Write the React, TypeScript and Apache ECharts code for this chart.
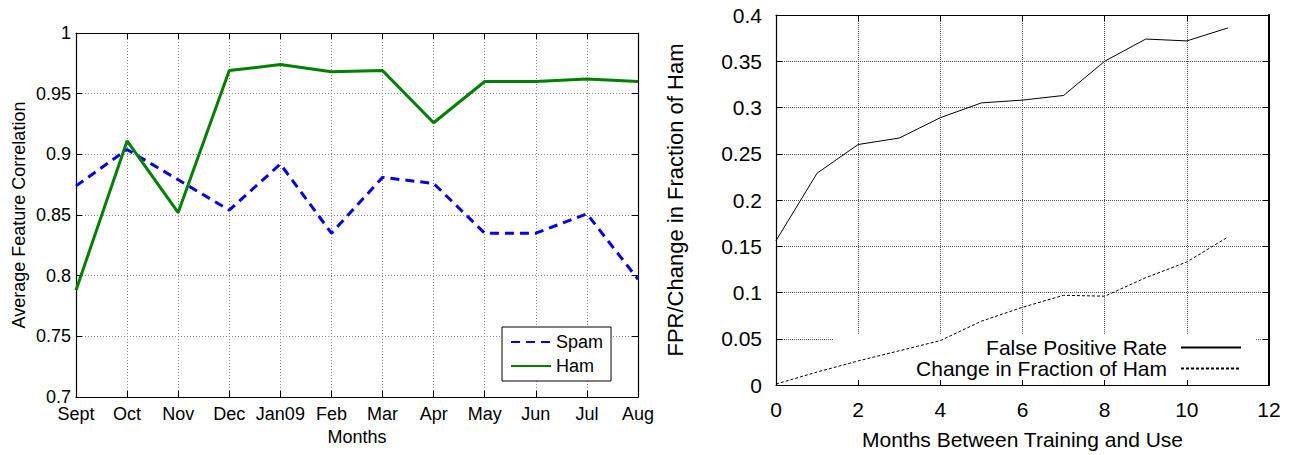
import React, { useEffect, useRef } from "react";
import * as echarts from "echarts";

const FONT = "'Liberation Sans', Arial, Helvetica, sans-serif";

// Left chart data
const months = ["Sept", "Oct", "Nov", "Dec", "Jan09", "Feb", "Mar", "Apr", "May", "Jun", "Jul", "Aug"];
const spamCorr = [0.874, 0.904, 0.879, 0.854, 0.892, 0.835, 0.881, 0.876, 0.835, 0.835, 0.851, 0.797];
const hamCorr = [0.788, 0.911, 0.852, 0.969, 0.974, 0.968, 0.969, 0.926, 0.960, 0.960, 0.962, 0.960];

// Right chart data
const monthsBetween = [0, 1, 2, 3, 4, 5, 6, 7, 8, 9, 10, 11];
const falsePositiveRate = [0.156, 0.229, 0.260, 0.267, 0.289, 0.305, 0.308, 0.313, 0.350, 0.374, 0.372, 0.386];
const hamFractionChange = [0.001, 0.014, 0.026, 0.037, 0.048, 0.069, 0.084, 0.097, 0.096, 0.116, 0.133, 0.160];

export default function App() {
  const ref = useRef<HTMLDivElement>(null);
  useEffect(() => {
    document.body.style.margin = "0";
    const chart = echarts.init(ref.current!, null, { renderer: "svg" });
    const leftGrid = { left: 76, top: 33, width: 562, height: 364 };
    const rightGrid = { left: 776, top: 15, width: 493, height: 371 };
    const lSplit = { show: true, lineStyle: { color: "#8a8a8a", type: [1, 2], width: 1 } };
    const rSplit = { show: true, lineStyle: { color: "#555", type: [1, 1], width: 1 } };
    const axisLine = { show: true, onZero: false, lineStyle: { color: "#000", width: 1.2 } };
    const tickIn = { show: true, inside: true, length: 6, lineStyle: { color: "#000", width: 1 } };
    const textL = { color: "#000", fontFamily: FONT, fontSize: 18 };
    const textR = { color: "#000", fontFamily: FONT, fontSize: 21 };
    const noSymbol = { opacity: 0, borderWidth: 0 };

    chart.setOption({
      animation: false,
      backgroundColor: "#fff",
      textStyle: { fontFamily: FONT },
      grid: [
        { ...leftGrid, containLabel: false },
        { ...rightGrid, containLabel: false },
      ],
      graphic: [
        {
          type: "rect",
          z: 1,
          shape: { x: 833, y: 335, width: 422, height: 45 },
          style: { fill: "#fff" },
        },
      ],
      xAxis: [
        {
          type: "category",
          gridIndex: 0,
          data: months,
          boundaryGap: false,
          axisLine,
          axisTick: { ...tickIn, alignWithLabel: true, interval: 0 },
          axisLabel: { ...textL, margin: 8, interval: 0 },
          splitLine: { ...lSplit, interval: 0 },
          name: "Months",
          nameLocation: "middle",
          nameGap: 27,
          nameTextStyle: textL,
        },
        {
          type: "category",
          gridIndex: 0,
          position: "top",
          data: months,
          boundaryGap: false,
          axisLine,
          axisTick: { ...tickIn, interval: 0 },
          axisLabel: { show: false },
          splitLine: { show: false },
        },
        {
          type: "value",
          gridIndex: 1,
          min: 0,
          max: 12,
          interval: 2,
          axisLine,
          axisTick: tickIn,
          axisLabel: { ...textR, margin: 14 },
          splitLine: rSplit,
          name: "Months Between Training and Use",
          nameLocation: "middle",
          nameGap: 44,
          nameTextStyle: textR,
        },
        {
          type: "value",
          gridIndex: 1,
          position: "top",
          min: 0,
          max: 12,
          interval: 2,
          axisLine,
          axisTick: tickIn,
          axisLabel: { show: false },
          splitLine: { show: false },
        },
      ],
      yAxis: [
        {
          type: "value",
          gridIndex: 0,
          min: 0.7,
          max: 1,
          interval: 0.05,
          axisLine,
          axisTick: tickIn,
          axisLabel: { ...textL, margin: 5 },
          splitLine: lSplit,
          name: "Average Feature Correlation",
          nameLocation: "middle",
          nameGap: 48,
          nameTextStyle: textL,
        },
        {
          type: "value",
          gridIndex: 0,
          position: "right",
          min: 0.7,
          max: 1,
          interval: 0.05,
          axisLine,
          axisTick: tickIn,
          axisLabel: { show: false },
          splitLine: { show: false },
        },
        {
          type: "value",
          gridIndex: 1,
          min: 0,
          max: 0.4,
          interval: 0.05,
          axisLine,
          axisTick: tickIn,
          axisLabel: { ...textR, margin: 14 },
          splitLine: rSplit,
          name: "FPR/Change in Fraction of Ham",
          nameLocation: "middle",
          nameGap: 90,
          nameTextStyle: { ...textR, fontSize: 22 },
        },
        {
          type: "value",
          gridIndex: 1,
          position: "right",
          min: 0,
          max: 0.4,
          interval: 0.05,
          axisLine: { ...axisLine, lineStyle: { color: "#000", width: 2 } },
          axisTick: tickIn,
          axisLabel: { show: false },
          splitLine: { show: false },
        },
      ],
      legend: [
        {
          data: ["Spam", "Ham"],
          orient: "vertical",
          left: 502,
          top: 327,
          padding: [6, 8, 6, 8],
          itemGap: 6,
          itemWidth: 40,
          itemHeight: 14,
          backgroundColor: "#fff",
          borderColor: "#000",
          borderWidth: 1,
          itemStyle: noSymbol,
          textStyle: textL,
        },
        {
          data: ["False Positive Rate"],
          right: 55,
          top: 337,
          padding: 0,
          align: "right",
          itemWidth: 60,
          itemHeight: 14,
          itemStyle: noSymbol,
          textStyle: { ...textR, padding: [0, 9, 0, 0] },
        },
        {
          data: ["Change in Fraction of Ham"],
          right: 55,
          top: 358,
          padding: 0,
          align: "right",
          itemWidth: 60,
          itemHeight: 14,
          itemStyle: noSymbol,
          textStyle: { ...textR, padding: [0, 9, 0, 0] },
        },
      ],
      series: [
        {
          name: "Spam",
          type: "line",
          xAxisIndex: 0,
          yAxisIndex: 0,
          data: spamCorr,
          symbol: "none",
          lineStyle: { color: "#0000ff", width: 3, type: [9, 6] },
          itemStyle: { color: "#0000ff" },
          z: 3,
        },
        {
          name: "Ham",
          type: "line",
          xAxisIndex: 0,
          yAxisIndex: 0,
          data: hamCorr,
          symbol: "none",
          lineStyle: { color: "#008000", width: 3 },
          itemStyle: { color: "#008000" },
          z: 3,
        },
        {
          name: "False Positive Rate",
          type: "line",
          xAxisIndex: 2,
          yAxisIndex: 2,
          data: monthsBetween.map((m, i) => [m, falsePositiveRate[i]]),
          symbol: "none",
          lineStyle: { color: "#000", width: 1 },
          itemStyle: { color: "#000" },
          z: 3,
        },
        {
          name: "Change in Fraction of Ham",
          type: "line",
          xAxisIndex: 2,
          yAxisIndex: 2,
          data: monthsBetween.map((m, i) => [m, hamFractionChange[i]]),
          symbol: "none",
          lineStyle: { color: "#000", width: 1, type: [3, 2] },
          itemStyle: { color: "#000" },
          z: 3,
        },
      ],
    });
    return () => chart.dispose();
  }, []);
  return <div ref={ref} style={{ width: 1297, height: 455 }} />;
}
